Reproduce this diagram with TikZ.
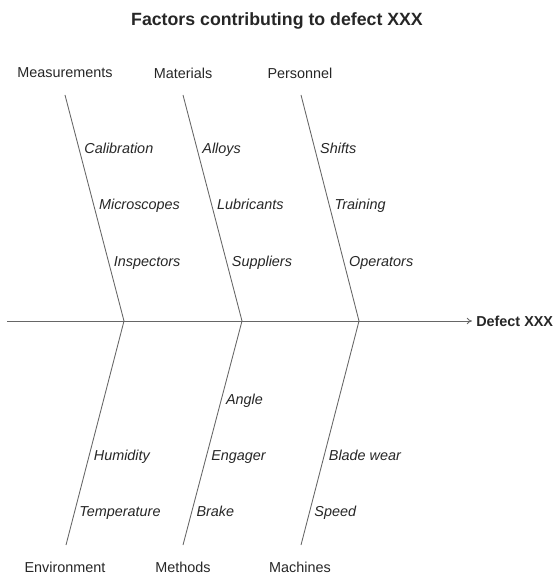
\documentclass[tikz,border=0pt]{standalone}
\usepackage{fontspec}
\setmainfont{Liberation Sans}
\usepackage{tikz}
\usetikzlibrary{
  arrows.meta}

\begin{document}
\begin{tikzpicture}[x=0.75pt,y=-0.75pt]
\tikzset{
  every node/.style={font=\fontsize{10.8}{13}\selectfont, inner sep=0pt, text=black!85},
  bone/.style={draw=black!60, line width=0.65pt},
  cause/.style={anchor=west, inner xsep=3.5pt, text height=8pt, text depth=2pt,
    font=\fontsize{10.8}{13}\selectfont\itshape},
  heading/.style={font=\fontsize{13.3}{16}\selectfont\bfseries}
}
\useasboundingbox (0,0) rectangle (555,577);

\node[heading] (title) at (277,21) {Factors contributing to defect XXX};

\coordinate (tail) at (7,321);
\coordinate (j1) at (124,321);
\coordinate (j2) at (242,321);
\coordinate (j3) at (359,321);
\node[anchor=west, inner xsep=3pt, font=\fontsize{10.8}{13}\selectfont\bfseries] (effect) at (472,321) {Defect XXX};
\path[bone, -{To[length=4pt, width=5pt]}] (tail) -- (effect.west);

\node (measurements) at (65,73) {Measurements};
\node (materials) at (183,73) {Materials};
\node (personnel) at (300,73) {Personnel};
\coordinate (measurements top) at (65,95);
\coordinate (materials top) at (183,95);
\coordinate (personnel top) at (301,95);

\path[bone] (measurements top) -- (j1)
  node[cause, pos=.243] (calibration) {Calibration}
  node[cause, pos=.491] (microscopes) {Microscopes}
  node[cause, pos=.743] (inspectors) {Inspectors};
\path[bone] (materials top) -- (j2)
  node[cause, pos=.243] (alloys) {Alloys}
  node[cause, pos=.491] (lubricants) {Lubricants}
  node[cause, pos=.743] (suppliers) {Suppliers};
\path[bone] (personnel top) -- (j3)
  node[cause, pos=.243] (shifts) {Shifts}
  node[cause, pos=.491] (training) {Training}
  node[cause, pos=.743] (operators) {Operators};

\node (environment) at (65,567) {Environment};
\node (methods) at (183,567) {Methods};
\node (machines) at (300,567) {Machines};
\coordinate (environment end) at (66,545);
\coordinate (methods end) at (183,545);
\coordinate (machines end) at (301,545);

\path[bone] (j1) -- (environment end)
  node[cause, pos=.607] (humidity) {Humidity}
  node[cause, pos=.857] (temperature) {Temperature};
\path[bone] (j2) -- (methods end)
  node[cause, pos=.357] (angle) {Angle}
  node[cause, pos=.607] (engager) {Engager}
  node[cause, pos=.857] (brake) {Brake};
\path[bone] (j3) -- (machines end)
  node[cause, pos=.607] (blade wear) {Blade wear}
  node[cause, pos=.857] (speed) {Speed};

\end{tikzpicture}
\end{document}
